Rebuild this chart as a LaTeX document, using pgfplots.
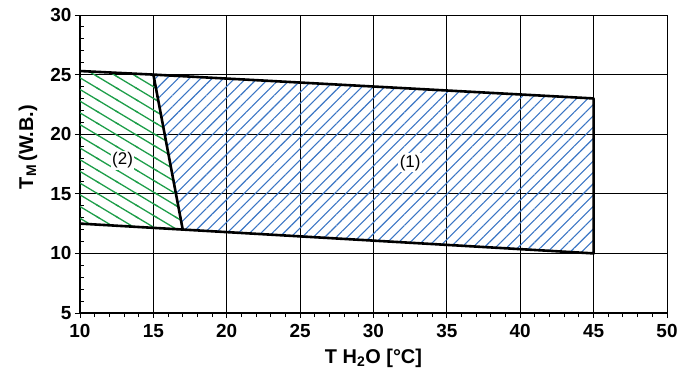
\documentclass[border=0pt]{standalone}
\usepackage{fontspec}
\setmainfont{Liberation Sans}
\usepackage{pgfplots}
\pgfplotsset{compat=1.18}
\usetikzlibrary{patterns,patterns.meta}
\definecolor{hblue}{RGB}{58,117,196}
\definecolor{hgreen}{RGB}{30,158,74}
\pgfdeclarepatternformonly{greenhatch}{\pgfqpoint{-2pt}{-2pt}}{\pgfqpoint{21.6pt}{13.75pt}}{\pgfqpoint{19.6pt}{11.75pt}}{%
  \pgfsetlinewidth{1.3pt}%
  \pgfpathmoveto{\pgfqpoint{-1.57pt}{12.69pt}}%
  \pgfpathlineto{\pgfqpoint{21.17pt}{-0.94pt}}%
  \pgfusepath{stroke}%
}
\begin{document}
\begin{tikzpicture}
\begin{axis}[
 scale only axis, width=587bp, height=298bp,
 xmin=10,xmax=50,ymin=5,ymax=30,
 xtick={10,15,...,50}, ytick={5,10,...,30},
 minor x tick num=4, minor y tick num=4,
 axis lines*=left,
 axis line style={line width=1.6bp},
 grid=major, major grid style={black, line width=0.9bp},
 tick style={black, line width=1bp},
 xtick align=outside, ytick align=outside,
 major tick length=5bp, minor tick length=4bp,
 minor y tick style={xshift=4bp},
 tick label style={font=\bfseries\fontsize{19}{19}\selectfont},
 xticklabel style={yshift=-3bp},
 /pgf/number format/assume math mode=true,
 xlabel={T H\textsubscript{2}O [°C]},
 xlabel style={font=\bfseries\fontsize{20}{20}\selectfont, yshift=-4bp},
 clip=false,
]
\addplot[draw=none, pattern=greenhatch, pattern color=hgreen]
 coordinates {(10,25.3) (15,25) (17,12) (10,12.5)} -- cycle;
\addplot[draw=none, pattern={Lines[angle=45, distance=8bp, line width=1.1bp]}, pattern color=hblue]
 coordinates {(15,25) (45,23) (45,10) (17,12)} -- cycle;
\addplot[black, line width=2.6bp, line join=round]
 coordinates {(10,25.3) (15,25) (45,23) (45,10) (17,12) (10,12.5)};
\addplot[black, line width=2.6bp]
 coordinates {(15,25) (17,12)};
\node[fill=white, inner sep=1.5pt, font=\fontsize{17}{17}\selectfont] at (axis cs:32.5,17.6) {(1)};
\node[fill=white, inner sep=1.5pt, font=\fontsize{17}{17}\selectfont] at (axis cs:12.9,17.8) {(2)};
\end{axis}
\node[rotate=90, font=\bfseries\fontsize{20}{20}\selectfont] at (-52bp,166bp) {T\textsubscript{M}\,(W.B.)};
\pgfresetboundingbox
\path[use as bounding box] (-80bp,-68bp) rectangle (604bp,313bp);
\end{tikzpicture}
\end{document}
